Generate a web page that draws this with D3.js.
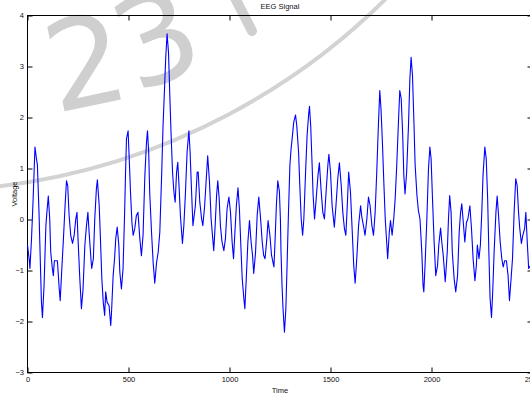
<!DOCTYPE html>
<html>
<head>
<meta charset="utf-8">
<script src="https://d3js.org/d3.v7.min.js"></script>
<style>
body{margin:0;background:#fff;overflow:hidden}
.chart text{font-family:'Liberation Sans Narrow','Arial Narrow','Liberation Sans',Arial,sans-serif;font-size:7.5px;fill:#111}
.watermark text{font-family:'DejaVu Sans',Verdana,sans-serif;font-size:124px;fill:#cfcfcf}
</style>
</head>
<body>
<div class="chart"></div>
<script>
// samples (time, voltage)
var timeSamples=[0,8,12,20,28,37,44,49,57,64,69,74,82,91,96,103,110,115,123,128,133,148,157,162,170,178,186,193,199,206,214,223,231,239,245,250,259,267,275,284,292,299,305,314,318,326,333,341,346,355,361,368,375,382,387,394,404,412,
416,424,431,437,444,452,457,465,473,480,485,490,498,503,510,517,523,531,539,547,556,564,572,581,589,594,600,605,614,622,630,639,647,655,664,671,679,684,691,698,704,711,718,725,731,738,744,750,757,767,774,782,790,799,805,811,819,
831,840,845,853,862,868,877,884,892,901,909,917,922,929,936,942,949,955,963,972,980,988,997,1005,1013,1020,1026,1034,1042,1049,1056,1063,1071,1076,1083,1091,1099,1107,1114,1120,1129,1137,1145,1154,1162,1169,1176,1185,1191,1200,1208,1220,1226,1232,1239,
1247,1252,1255,1260,1265,1272,1279,1285,1292,1299,1305,1310,1318,1327,1333,1342,1348,1355,1362,1368,1376,1384,1392,1396,1402,1409,1414,1421,1429,1438,1445,1453,1462,1470,1478,1487,1492,1500,1508,1519,1527,1536,1544,1553,1561,1569,1576,1583,1590,1599,1607,1615,1622,1630,1639,1649,
1655,1663,1671,1680,1688,1696,1705,1713,1721,1729,1737,1744,1750,1757,1764,1771,1779,1783,1791,1797,1805,1813,1820,1828,1837,1843,1850,1857,1863,1869,1877,1886,1893,1899,1906,1913,1919,1928,1935,1943,1952,1958,1962,1968,1977,1985,1992,1998,2005,2013,2021,2030,2036,2045,2051,2058,2068,
2078,2084,2090,2097,2103,2112,2120,2129,2137,2144,2150,2156,2165,2173,2180,2190,2198,2206,2215,2222,2227,2235,2242,2249,2255,2264,2271,2278,2284,2290,2297,2303,2310,2319,2325,2332,2340,2348,2355,2362,2371,2379,2386,2394,2401,2409,2417,2424,2431,2437,2445,2452,2461,2467,2474,2481,2490,2500];

var voltage=[-0.5,-0.77,-0.96,-0.37,0.41,1.42,1.2,1.07,0.14,-0.9,-1.62,-1.92,-1.29,-0.12,0.14,0.46,0.01,-0.64,-0.96,-1.1,-0.81,-0.81,-1.36,-1.59,-0.96,-0.37,0.27,0.76,0.67,0.08,-0.31,-0.47,-0.31,0.01,0.14,-0.37,-1.16,-1.75,-1.36,-0.5,-0.12,0.14,-0.25,-0.77,-0.96,-0.77,0.01,0.6,0.78,0.27,-0.37,-1.16,-1.62,-1.88,-1.42,-1.62,-1.69,-2.08,
-1.82,-1.1,-0.77,-0.37,-0.15,-0.5,-1.03,-1.36,-0.96,0.01,0.86,1.58,1.74,1.25,0.53,-0.06,-0.31,-0.18,0.08,0.14,-0.37,-0.71,-0.31,0.86,1.51,1.74,1.32,0.53,-0.25,-0.84,-1.25,-0.84,-0.64,-0.25,0.86,1.84,2.63,3.15,3.64,3.28,2.5,1.65,0.93,0.53,0.34,0.93,1.12,0.67,0.08,-0.47,-0.12,0.53,1.32,1.74,1.32,0.67,-0.12,
0.27,0.93,0.93,0.34,0.01,-0.12,0.27,0.73,1.25,0.73,0.01,-0.37,-0.61,-0.12,0.47,0.76,0.4,-0.12,-0.44,-0.61,-0.37,0.21,0.44,0.14,-0.44,-0.77,-0.31,0.27,0.62,0.21,-0.5,-1.16,-1.55,-1.75,-1.16,-0.44,-0.02,-0.44,-0.7,-1.06,-0.64,0.08,0.44,0.01,-0.44,-0.7,-0.77,-0.37,-0.02,-0.31,-0.7,-0.93,-0.37,0.27,0.76,
0.55,0.01,-0.64,-1.29,-1.75,-2.21,-1.75,-0.9,0.14,1.07,1.39,1.58,1.91,2.05,1.84,1.32,0.67,0.01,-0.31,0.01,0.86,1.64,2.07,2.22,1.84,1.07,0.47,0.01,0.4,0.86,1.11,0.6,0.14,0.01,0.53,1.07,1.28,0.93,0.27,-0.15,0.27,0.8,1.11,0.67,0.14,-0.18,-0.31,0.27,0.93,0.53,-0.18,-0.9,-1.25,-0.77,-0.12,0.27,
0.05,-0.12,-0.31,0.01,0.44,0.27,-0.12,-0.31,0.14,0.93,1.84,2.53,2.17,1.51,0.73,0.01,-0.5,-0.77,-0.25,-0.02,-0.31,0.01,0.4,1.07,1.97,2.53,2.37,1.71,0.86,0.5,0.93,1.84,2.76,3.18,2.82,1.91,1.07,0.47,0.18,0.01,-0.64,-1.29,-1.42,-0.9,0.01,0.99,1.42,1.19,0.4,-0.44,-1.1,-0.9,-0.5,-0.17,-0.44,-0.7,-1.22,
-0.64,0.01,0.47,0.14,-0.64,-1.16,-1.42,-1.1,-0.25,0.14,0.31,0.01,-0.44,-0.06,0.01,0.27,-0.18,-0.77,-1.2,-0.9,-0.5,-0.77,-0.5,0.14,0.86,1.42,1.19,0.4,-0.64,-1.55,-1.92,-1.42,-0.64,0.14,0.46,0.08,-0.44,-0.77,-0.93,-0.81,-0.81,-1.1,-1.59,-1.16,-0.77,0.14,0.8,0.67,0.14,-0.18,-0.47,-0.31,-0.18,0.14,-0.44,-0.96,-0.9,-0.8];

var xTicks=[0,500,1000,1500,2000,2500];
var yTicks=[-3,-2,-1,0,1,2,3,4];

var width=530, height=394;
var plotLeft=27.5, plotRight=532.5, plotTop=15.5, plotBottom=372.5;
var lineblue='#0000ff';
var markgrey='#cfcfcf';

var svg=d3.select('.chart').append('svg')
    .attr('width',width)
    .attr('height',height)

var xscale=d3.scaleLinear()
    .domain([0,2500])
    .range([plotLeft,plotRight])

var yscale=d3.scaleLinear()
    .domain([-3,4])
    .range([plotBottom,plotTop])

// faint watermark behind the signal
var mark=svg.append('g').attr('class','watermark')

mark.append('path')
    .attr('d','M-10,187.3A661,661 0 0,0 426,-45')
    .attr('fill','none')
    .attr('stroke','#d3d3d3')
    .attr('stroke-width',4)

mark.append('text').text('2')
    .attr('text-anchor','middle')
    .attr('y',45)
    .attr('transform','translate(85,61) rotate(-12)')

mark.append('text').text('3')
    .attr('text-anchor','middle')
    .attr('y',45)
    .attr('transform','translate(156,37) rotate(-22)')

mark.append('path')
    .attr('d','M234,-4L252,31')
    .attr('stroke',markgrey)
    .attr('stroke-width',10)
    .attr('stroke-linecap','round')

// axes, ticks pointing inwards on all four sides
svg.append('g')
    .attr('transform','translate(0,'+plotBottom+')')
    .call(d3.axisBottom(xscale).tickValues(xTicks).tickFormat(d3.format('d')).tickSize(-5).tickPadding(4))

svg.append('g')
    .attr('transform','translate(0,'+plotTop+')')
    .call(d3.axisTop(xscale).tickValues(xTicks).tickSize(-5).tickFormat(''))

svg.append('g')
    .attr('transform','translate('+plotLeft+',0)')
    .call(d3.axisLeft(yscale).tickValues(yTicks).tickFormat(d3.format('d')).tickSize(-5).tickPadding(3.5))

svg.append('g')
    .attr('transform','translate('+plotRight+',0)')
    .call(d3.axisRight(yscale).tickValues(yTicks).tickSize(-5).tickFormat(''))

svg.selectAll('.domain').remove()
svg.selectAll('.tick line').attr('stroke','#000')
svg.selectAll('.tick text').attr('font-family',null).attr('font-size',null).attr('fill','#111')

svg.append('rect')
    .attr('x',plotLeft)
    .attr('y',plotTop)
    .attr('width',plotRight-plotLeft)
    .attr('height',plotBottom-plotTop)
    .attr('fill','none')
    .attr('stroke','#000')
    .attr('stroke-width',1)

var signal=timeSamples.map(function(t,i){return {t:t,v:voltage[i]}})

svg.append('path')
    .datum(signal)
    .attr('d',d3.line()
        .x(function(d){return xscale(d.t)})
        .y(function(d){return yscale(d.v)}))
    .attr('fill','none')
    .attr('stroke',lineblue)
    .attr('stroke-width',1.1)
    .attr('stroke-linejoin','round')

// titles
svg.append('text')
    .text('EEG Signal')
    .attr('x',280)
    .attr('y',9)
    .attr('text-anchor','middle')

svg.append('text')
    .text('Time')
    .attr('x',280)
    .attr('y',393)
    .attr('text-anchor','middle')

svg.append('text')
    .text('Voltage')
    .attr('text-anchor','middle')
    .attr('transform','translate(17,194) rotate(-90)')
</script>
</body>
</html>
